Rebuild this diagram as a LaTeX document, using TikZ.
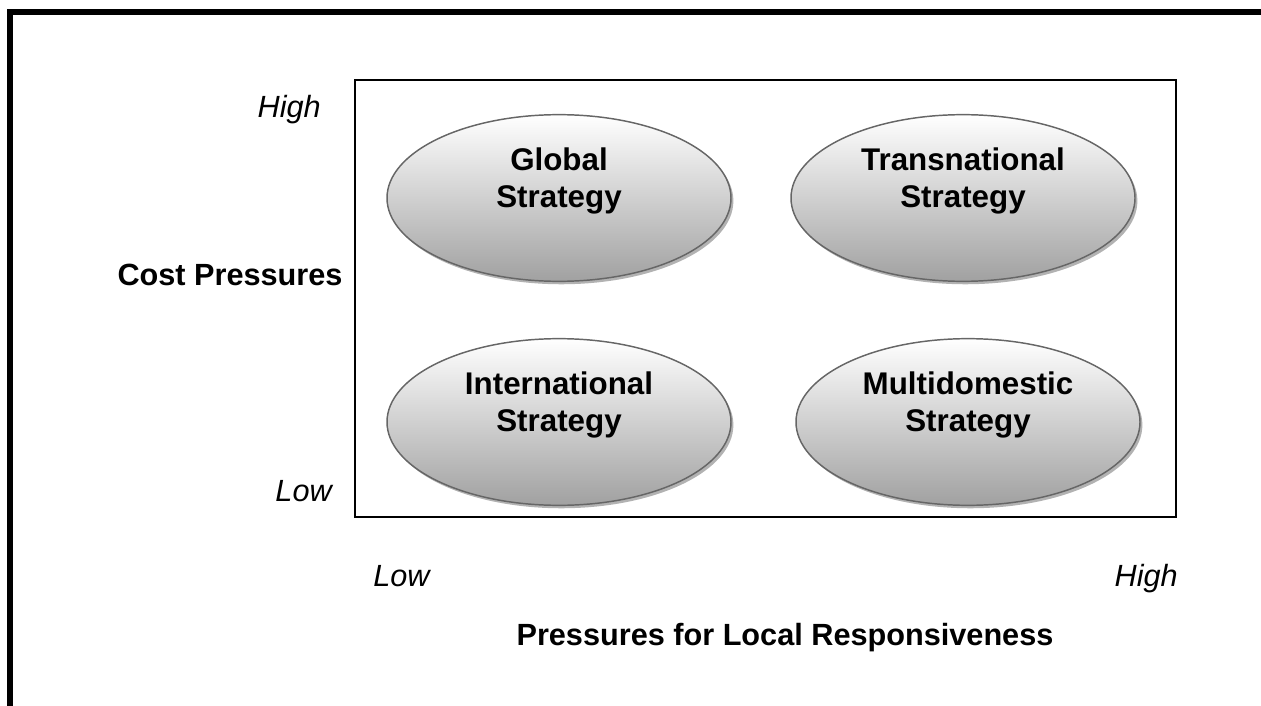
\documentclass[tikz,border=0pt]{standalone}
\usepackage{fontspec}
\setmainfont{Liberation Sans}
\usetikzlibrary{shapes.geometric,shadows}

\begin{document}
\begin{tikzpicture}[x=0.75pt,y=-0.75pt,
  quad/.style={ellipse,draw=black!60,line width=1.1pt,minimum width=258pt,minimum height=125pt,
    top color=white,bottom color=black!37,
    drop shadow={shadow xshift=1.8pt,shadow yshift=-2.2pt,fill=black!30,opacity=1}},
  qtext/.style={align=center,font=\bfseries\fontsize{23.5}{28}\selectfont},
  tick/.style={font=\itshape\fontsize{23}{27}\selectfont,inner sep=0pt},
  axis/.style={font=\bfseries\fontsize{23}{27}\selectfont,inner sep=0pt}]
\useasboundingbox (0,0) rectangle (1261,706);
% outer frame
\draw[line width=4.5pt] (10,720) -- (10,12) -- (1275,12);
% matrix box
\draw[line width=1.5pt] (355,80) rectangle (1176,517);
% strategies
\node[quad] (glob) at (559,198) {};
\node[quad] (trans) at (963,198) {};
\node[quad] (inter) at (559,422) {};
\node[quad] (multi) at (968,422) {};
\node[qtext] (globt) at ([yshift=13pt]glob.center) {Global\\Strategy};
\node[qtext] (transt) at ([yshift=13pt]trans.center) {Transnational\\Strategy};
\node[qtext] (intert) at ([yshift=13pt]inter.center) {International\\Strategy};
\node[qtext] (multit) at ([yshift=13pt]multi.center) {Multidomestic\\Strategy};
% axis labels
\node[tick,anchor=base east] (yhigh) at (321,118) {High};
\node[tick,anchor=base east] (ylow) at (332,501) {Low};
\node[axis] (ycost) at (230,275) {Cost Pressures};
\node[tick,anchor=base west] (xlow) at (373,586) {Low};
\node[tick,anchor=base east] (xhigh) at (1178,586) {High};
\node[axis] (xresp) at (785,638) {Pressures for Local Responsiveness};
\end{tikzpicture}
\end{document}
